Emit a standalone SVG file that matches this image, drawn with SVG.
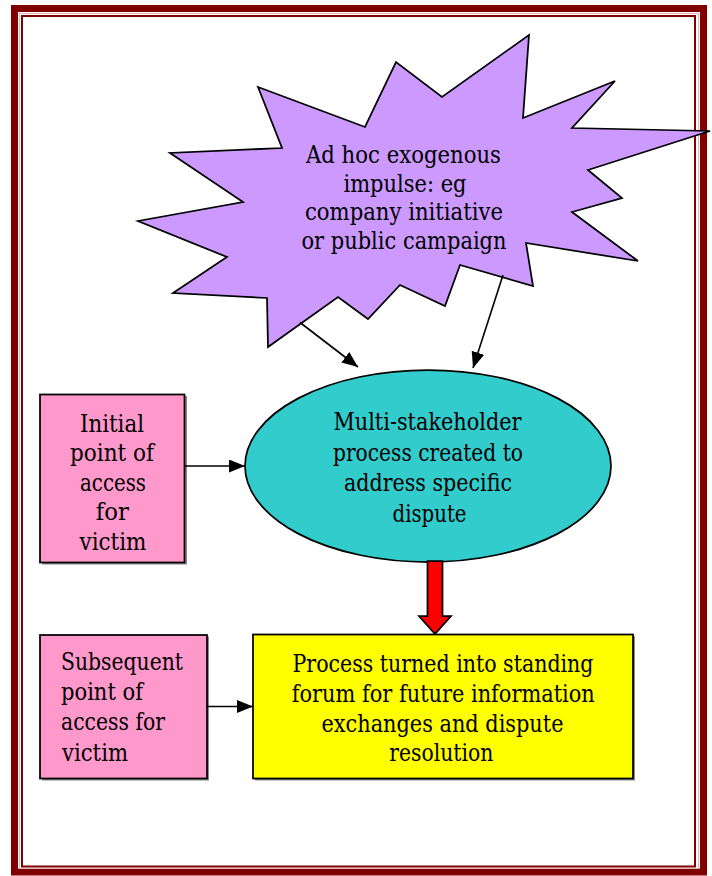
<svg xmlns="http://www.w3.org/2000/svg" width="712" height="876" viewBox="0 0 712 876">
  <defs>
    <marker id="arrow" viewBox="0 0 16 13" refX="16" refY="6.5" markerWidth="16" markerHeight="13" markerUnits="userSpaceOnUse" orient="auto">
      <path d="M0,0 L16,6.5 L0,13 Z" fill="#000"/>
    </marker>
    <style>
      text { font-family: 'DejaVu Serif', 'Liberation Serif', serif; font-size: 25px; fill: #000; }
      .mid { text-anchor: middle; }
      .shape { stroke: #000; stroke-width: 1.75; }
      .shadow { fill: #8a8a8a; }
      .conn { stroke: #000; stroke-width: 1.6; fill: none; marker-end: url(#arrow); }
    </style>
  </defs>

  <rect width="712" height="876" fill="#fff"/>

  <!-- double page border -->
  <g id="border" fill="none">
    <rect x="14.5" y="8.5" width="689" height="863.5" stroke="#800000" stroke-width="7"/>
    <rect x="19.5" y="13.5" width="679" height="855" stroke="#e3b5b5" stroke-width="1"/>
    <rect x="22" y="16" width="673" height="850.5" stroke="#800000" stroke-width="2"/>
  </g>

  <!-- exogenous impulse (starburst) -->
  <g id="impulse">
    <polygon class="shape" fill="#CC99FF" stroke-linejoin="miter"
      points="258,87 365,127 396,62 442,97 529,35 523,118 615,81 572,128 710,131 588,170 622,198 572,212 638,261 526,243 533,286 460,265 445,306 400,285 368,319 338,297 268,347 267,298 173,293 227,257 138,221 243,202 170,153 282,148"/>
    <text class="mid" x="403.5" y="163" textLength="195" lengthAdjust="spacingAndGlyphs">Ad hoc exogenous</text>
    <text class="mid" x="405" y="191.5" textLength="123" lengthAdjust="spacingAndGlyphs">impulse: eg</text>
    <text class="mid" x="404" y="220" textLength="198" lengthAdjust="spacingAndGlyphs">company initiative</text>
    <text class="mid" x="404" y="248.5" textLength="205" lengthAdjust="spacingAndGlyphs">or public campaign</text>
  </g>

  <!-- multi-stakeholder process -->
  <g id="process">
    <ellipse class="shape" cx="428" cy="466" rx="183" ry="96" fill="#33CCCC"/>
    <text class="mid" x="427.5" y="430" textLength="188" lengthAdjust="spacingAndGlyphs">Multi-stakeholder</text>
    <text class="mid" x="428" y="460.5" textLength="190" lengthAdjust="spacingAndGlyphs">process created to</text>
    <text class="mid" x="428" y="491" textLength="168" lengthAdjust="spacingAndGlyphs">address specific</text>
    <text class="mid" x="429.5" y="521.5" textLength="74" lengthAdjust="spacingAndGlyphs">dispute</text>
  </g>

  <!-- initial access point -->
  <g id="initial-access">
    <rect class="shadow" x="42" y="396" width="145" height="168.5"/>
    <rect class="shape" x="40" y="394.5" width="144.5" height="168" fill="#FF99CC"/>
    <text class="mid" x="112" y="431.5" textLength="64" lengthAdjust="spacingAndGlyphs">Initial</text>
    <text class="mid" x="112" y="461" textLength="84" lengthAdjust="spacingAndGlyphs">point of</text>
    <text class="mid" x="113" y="490.5" textLength="66" lengthAdjust="spacingAndGlyphs">access</text>
    <text class="mid" x="112.3" y="520" textLength="33" lengthAdjust="spacingAndGlyphs">for</text>
    <text class="mid" x="113" y="550" textLength="67" lengthAdjust="spacingAndGlyphs">victim</text>
  </g>

  <!-- subsequent access point -->
  <g id="subsequent-access">
    <rect class="shadow" x="42" y="636.5" width="167" height="144"/>
    <rect class="shape" x="40" y="635" width="167" height="143.5" fill="#FF99CC"/>
    <text x="61" y="670" textLength="122" lengthAdjust="spacingAndGlyphs">Subsequent</text>
    <text x="61" y="700" textLength="82" lengthAdjust="spacingAndGlyphs">point of</text>
    <text x="61" y="730" textLength="104" lengthAdjust="spacingAndGlyphs">access for</text>
    <text x="62" y="760.5" textLength="66" lengthAdjust="spacingAndGlyphs">victim</text>
  </g>

  <!-- standing forum -->
  <g id="standing-forum">
    <rect class="shadow" x="255" y="636" width="380" height="144.5"/>
    <rect class="shape" x="253" y="634.5" width="380" height="144" fill="#FFFF00"/>
    <text class="mid" x="443" y="671.5" textLength="301" lengthAdjust="spacingAndGlyphs">Process turned into standing</text>
    <text class="mid" x="443.3" y="701.5" textLength="303" lengthAdjust="spacingAndGlyphs">forum for future information</text>
    <text class="mid" x="442.5" y="731.5" textLength="242" lengthAdjust="spacingAndGlyphs">exchanges and dispute</text>
    <text class="mid" x="441.3" y="760.5" textLength="104" lengthAdjust="spacingAndGlyphs">resolution</text>
  </g>

  <!-- connectors -->
  <g id="connectors">
    <line class="conn" x1="300" y1="322.5" x2="358" y2="367"/>
    <line class="conn" x1="503" y1="275" x2="473" y2="368"/>
    <line class="conn" x1="184.5" y1="466" x2="245" y2="466"/>
    <line class="conn" x1="207" y1="706.5" x2="253" y2="706.5"/>
    <polygon class="shape" fill="#FF0000" points="427.5,561 442.5,561 442.5,616 451,616 435,634 419,616 427.5,616"/>
  </g>
</svg>
